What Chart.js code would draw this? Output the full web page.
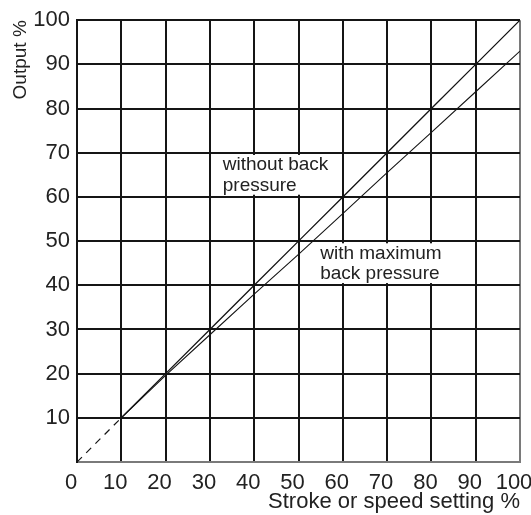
<!DOCTYPE html>
<html>
<head>
<meta charset="utf-8">
<script src="https://cdn.jsdelivr.net/npm/chart.js@4"></script>
<style>
  html, body { margin: 0; padding: 0; background: #fff; }
  #wrap { width: 531px; height: 515px; }
</style>
</head>
<body>
<div id="wrap"><canvas id="myChart"></canvas></div>
<script>
// Values
const strokeSetting = [10, 20, 30, 40, 50, 60, 70, 80, 90, 100];
const outputNoBack = [10, 20, 30, 40, 50, 60, 70, 80, 90, 100];
const outputMaxBack = [10, 19.6, 28.8, 38, 47, 56.2, 65.5, 74.6, 83.8, 93];
const dashedX = [0, 10];
const dashedY = [0, 10];
const tickValues = [0, 10, 20, 30, 40, 50, 60, 70, 80, 90, 100];

const labelNoBack = ['without back', 'pressure'];
const labelMaxBack = ['with maximum', 'back pressure'];

const FONT = '"Liberation Sans", Arial, sans-serif';
const INK = '#151515';
const GREY = '#7a7a7a';

function toPoints(xs, ys) {
    return xs.map((x, i) => ({ x: x, y: ys[i] }));
}

// white boxes with the two curve labels, placed in data units
const curveLabels = {
    id: 'curveLabels',
    beforeDatasetsDraw(chart) {
        const { ctx, scales: { x, y } } = chart;
        const boxes = [
            { box: [31.2, 58.2, 60.5, 69.5], at: [32.9, 67.3, 62.5], lines: labelNoBack },
            { box: [53.7, 83, 40.5, 49.5], at: [54.9, 47.2, 42.6], lines: labelMaxBack }
        ];
        ctx.save();
        boxes.forEach((b) => {
            const left = x.getPixelForValue(b.box[0]);
            const right = x.getPixelForValue(b.box[1]);
            const top = y.getPixelForValue(b.box[3]);
            const bottom = y.getPixelForValue(b.box[2]);
            ctx.fillStyle = '#fff';
            ctx.fillRect(left, top, right - left, bottom - top);
            ctx.fillStyle = '#222';
            ctx.font = '19px ' + FONT;
            ctx.textAlign = 'left';
            ctx.textBaseline = 'middle';
            b.lines.forEach((t, i) => {
                ctx.fillText(t, x.getPixelForValue(b.at[0]), y.getPixelForValue(b.at[i + 1]));
            });
        });
        ctx.restore();
    }
};

const ctx = document.getElementById('myChart');

new Chart(ctx, {
    type: 'line',
    data: {
        datasets: [{
            label: 'without back pressure',
            data: toPoints(strokeSetting, outputNoBack),
            borderColor: INK,
            borderWidth: 1.3,
            pointRadius: 0,
            tension: 0
        }, {
            label: 'with maximum back pressure',
            data: toPoints(strokeSetting, outputMaxBack),
            borderColor: INK,
            borderWidth: 1.1,
            pointRadius: 0,
            tension: 0
        }, {
            label: 'extrapolated',
            data: toPoints(dashedX, dashedY),
            borderColor: INK,
            borderWidth: 1.2,
            borderDash: [7, 6],
            pointRadius: 0
        }]
    },
    options: {
        responsive: true,
        maintainAspectRatio: false,
        animation: false,
        layout: {
            padding: { left: 5, right: 11, top: 19, bottom: 0 }
        },
        plugins: {
            legend: { display: false },
            tooltip: { enabled: false }
        },
        scales: {
            x: {
                type: 'linear',
                min: 0,
                max: 100,
                afterBuildTicks: (scale) => {
                    scale.ticks = tickValues.map((v) => ({ value: v }));
                },
                afterFit: (scale) => {
                    scale.height = 53;
                    scale.paddingLeft = 0;
                    scale.paddingRight = 0;
                },
                ticks: {
                    color: '#222',
                    padding: 8,
                    labelOffset: -6,
                    maxRotation: 0,
                    autoSkip: false,
                    font: { family: FONT, size: 22 }
                },
                grid: {
                    drawTicks: false,
                    lineWidth: 2,
                    color: (c) => (c.tick && c.tick.value === 100 ? GREY : INK)
                },
                border: { color: GREY, width: 2 },
                title: {
                    display: true,
                    text: 'Stroke or speed setting %',
                    align: 'end',
                    color: '#222',
                    padding: { top: -3, bottom: 0 },
                    font: { family: FONT, size: 22 }
                }
            },
            y: {
                min: 0,
                max: 100,
                afterBuildTicks: (scale) => {
                    scale.ticks = tickValues.map((v) => ({ value: v }));
                },
                afterFit: (scale) => {
                    scale.width = 72;
                },
                ticks: {
                    color: '#222',
                    padding: 7,
                    font: { family: FONT, size: 22 },
                    callback: (v) => (v === 0 ? '' : v)
                },
                grid: {
                    drawTicks: false,
                    lineWidth: 2,
                    color: (c) => (c.tick && c.tick.value === 0 ? GREY : INK)
                },
                border: { color: INK, width: 2 },
                title: {
                    display: true,
                    text: 'Output %',
                    align: 'end',
                    color: '#222',
                    padding: { top: 4, bottom: 0 },
                    font: { family: FONT, size: 19 }
                }
            }
        }
    },
    plugins: [curveLabels]
});
</script>
</body>
</html>
